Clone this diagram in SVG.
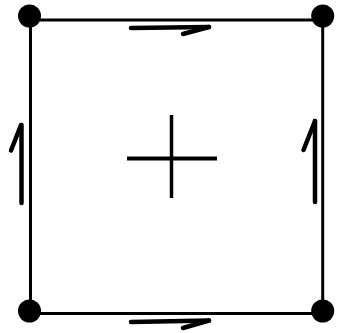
<svg xmlns="http://www.w3.org/2000/svg" width="338" height="333" viewBox="0 0 338 333">
<style>
.edge{stroke:#000;stroke-width:3;fill:none}
.arr{stroke:#000;stroke-width:4.5;fill:none;stroke-linecap:round;stroke-linejoin:round}
.hook{stroke:#000;stroke-width:4.5;fill:none;stroke-linecap:round}
.dot{fill:#000}
</style>
<rect width="338" height="333" fill="#fff"/>
<g id="connectors">
<line class="edge" x1="29.5" y1="20" x2="322.7" y2="20"/>
<line class="edge" x1="29.5" y1="313.5" x2="322.7" y2="313.5"/>
<line class="edge" x1="30.5" y1="16" x2="30.5" y2="311"/>
<line class="edge" x1="322.7" y1="16" x2="322.7" y2="311"/>
<g id="arrow-top"><line class="arr" x1="131" y1="28" x2="209" y2="27"/><path class="hook" d="M209 27 L183 34"/></g>
<g id="arrow-bottom"><line class="arr" x1="131" y1="322" x2="209" y2="320.5"/><path class="hook" d="M209 320.5 L183 328"/></g>
<g id="arrow-left"><line class="arr" x1="21.5" y1="125" x2="21.5" y2="203"/><path class="hook" d="M21 125 L11 150.5"/></g>
<g id="arrow-right"><line class="arr" x1="315" y1="121" x2="315" y2="202"/><path class="hook" d="M315 121 L303.5 150"/></g>
</g>
<g id="node-tl"><circle class="dot" cx="29.5" cy="16" r="11.5"/></g>
<g id="node-tr"><circle class="dot" cx="322.7" cy="16" r="11.5"/></g>
<g id="node-bl"><circle class="dot" cx="29.5" cy="311" r="11.5"/></g>
<g id="node-br"><circle class="dot" cx="322.7" cy="311" r="11.5"/></g>
<g id="plus">
<line x1="171.5" y1="115" x2="171.5" y2="198" stroke="#000" stroke-width="3.5"/>
<line x1="127" y1="158.5" x2="217" y2="158.5" stroke="#000" stroke-width="4"/>
</g>
</svg>
